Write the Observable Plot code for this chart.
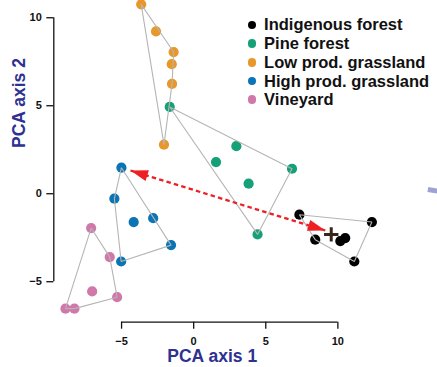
<!DOCTYPE html>
<html><head><meta charset="utf-8">
<script src="https://cdn.jsdelivr.net/npm/d3@7"></script>
<script src="https://cdn.jsdelivr.net/npm/@observablehq/plot@0.6"></script>
<style>
body{margin:0;background:#fff;}
#wrap{position:relative;width:437px;height:367px;overflow:hidden;}
#wrap svg{position:absolute;left:0;top:0;}
#legend{position:absolute;left:247.5px;top:15.6px;font:bold 16.5px "Liberation Sans",Arial,sans-serif;color:#111;}
#legend .row{display:flex;align-items:center;height:18.7px;white-space:nowrap;}
#legend .sw{width:8.6px;height:8.6px;border-radius:50%;margin-right:8px;flex:none;}
</style>
</head><body>
<div id="wrap"><div id="legend"></div></div>
<script>
const categories = ["Indigenous forest","Pine forest","Low prod. grassland","High prod. grassland","Vineyard"];
const colors = ["#000000","#16a078","#e8972a","#0b74b4","#cf78a9"];
const indigenousForest = [[7.33,-1.19],[12.36,-1.61],[8.43,-2.61],[10.17,-2.69],[10.51,-2.52],[11.14,-3.85]];
const pineForest = [[-1.66,4.93],[1.55,1.80],[2.96,2.70],[6.82,1.42],[3.81,0.57],[4.43,-2.31]];
const lowProdGrassland = [[-3.64,10.76],[-2.61,9.22],[-1.39,8.05],[-1.52,7.36],[-1.50,6.24],[-2.06,2.79]];
const highProdGrassland = [[-5.01,1.48],[-5.50,-0.28],[-4.16,-1.61],[-2.81,-1.39],[-1.57,-2.92],[-5.03,-3.85]];
const vineyard = [[-7.11,-1.95],[-5.82,-3.60],[-7.04,-5.55],[-5.31,-5.88],[-8.89,-6.53],[-8.27,-6.53]];
const centroid = [[9.54,-2.31]];
const arrowEnds = [[9.13,-2.09],[-4.38,1.32]];
const fragment = [[16.24,0.24],[17.4,0.08]];
const xTicks = [-5,0,5,10];
const yTicks = [-5,0,5,10];
const xLabel = "PCA axis 1";
const yLabel = "PCA axis 2";

const groups = [indigenousForest, pineForest, lowProdGrassland, highProdGrassland, vineyard];
const points = groups.flatMap((g, i) => g.map(([x, y]) => ({x, y, group: categories[i]})));

const W = 437, H = 367;
const base = {
  width: W, height: H,
  marginLeft: 53.3, marginRight: 5.9, marginTop: 0, marginBottom: 45.3,
  x: {domain: [-9.70, 16.5]},
  y: {domain: [-7.30, 10.98]},
  color: {domain: categories, range: colors},
  style: {fontFamily: "'Liberation Sans', Arial, sans-serif", fontWeight: "bold", background: "transparent", overflow: "visible"}
};

// first pass to get the library's scales for arrowhead orientation
const probe = Plot.plot({...base, marks: [Plot.dot(points, {x: "x", y: "y"})]});
let sx = probe.scale("x"), sy = probe.scale("y");
const fx = sx.apply ? sx.apply : d3.scaleLinear(sx.domain, sx.range);
const fy = sy.apply ? sy.apply : d3.scaleLinear(sy.domain, sy.range);
const [A, B] = arrowEnds;
const ax = fx(A[0]), ay = fy(A[1]), bx = fx(B[0]), by = fy(B[1]);
const angAB = Math.atan2(by - ay, bx - ax) * 180 / Math.PI;
const heads = [
  {x: A[0], y: A[1], rot: angAB + 180},
  {x: B[0], y: B[1], rot: angAB}
];
const headSymbol = {draw(ctx) { ctx.moveTo(0, 0); ctx.lineTo(-17.5, -5.6); ctx.lineTo(-17.5, 5.6); ctx.closePath(); }};

const plot = Plot.plot({
  ...base,
  marks: [
    Plot.ruleY([-7.30], {x1: xTicks[0], x2: xTicks[xTicks.length - 1], stroke: "#111", strokeWidth: 1.3}),
    Plot.ruleX([-9.70], {y1: yTicks[0], y2: yTicks[yTicks.length - 1], stroke: "#111", strokeWidth: 1.3}),
    Plot.axisX({ticks: xTicks, tickSize: 7, tickPadding: 8, fontSize: 11, fontWeight: "bold", label: null, strokeWidth: 1.3, stroke: "#111", fill: "#111"}),
    Plot.axisY({ticks: yTicks, tickSize: 7, tickPadding: 5, fontSize: 11, fontWeight: "bold", label: null, strokeWidth: 1.3, stroke: "#111", fill: "#111"}),
    Plot.dot(points, {x: "x", y: "y", fill: "group", r: 5.1}),
    Plot.hull(points, {x: "x", y: "y", z: "group", stroke: "#b5b5b5", strokeWidth: 1.1, fill: "none"}),
    Plot.link([arrowEnds], {x1: d => d[0][0], y1: d => d[0][1], x2: d => d[1][0], y2: d => d[1][1], stroke: "#ed2024", strokeWidth: 2.3, strokeDasharray: "4.5,3.2"}),
    Plot.dot(heads, {x: "x", y: "y", rotate: "rot", symbol: headSymbol, fill: "#ed2024", stroke: "none"}),
    Plot.dot(centroid, {x: d => d[0], y: d => d[1], symbol: "plus", r: 4.7, stroke: "#3a2618", strokeWidth: 3}),
    Plot.link([fragment], {x1: d => d[0][0], y1: d => d[0][1], x2: d => d[1][0], y2: d => d[1][1], stroke: "#9ea3d3", strokeWidth: 5}),
    Plot.text([xLabel], {text: d => d, frameAnchor: "bottom", dx: -30.5, dy: 34.6, fontSize: 17.5, fontWeight: "bold", fill: "#2e3192", lineAnchor: "middle"}),
    Plot.text([yLabel], {text: d => d, frameAnchor: "left", rotate: -90, dx: -34.2, dy: -13.4, fontSize: 17.5, fontWeight: "bold", fill: "#2e3192", lineAnchor: "middle"})
  ]
});
const wrap = document.getElementById("wrap");
wrap.insertBefore(plot, wrap.firstChild);

const legend = document.getElementById("legend");
categories.forEach((c, i) => {
  const row = document.createElement("div");
  row.className = "row";
  const sw = document.createElement("span");
  sw.className = "sw";
  sw.style.background = colors[i];
  const t = document.createElement("span");
  t.textContent = c;
  row.appendChild(sw); row.appendChild(t);
  legend.appendChild(row);
});
</script>
</body></html>
